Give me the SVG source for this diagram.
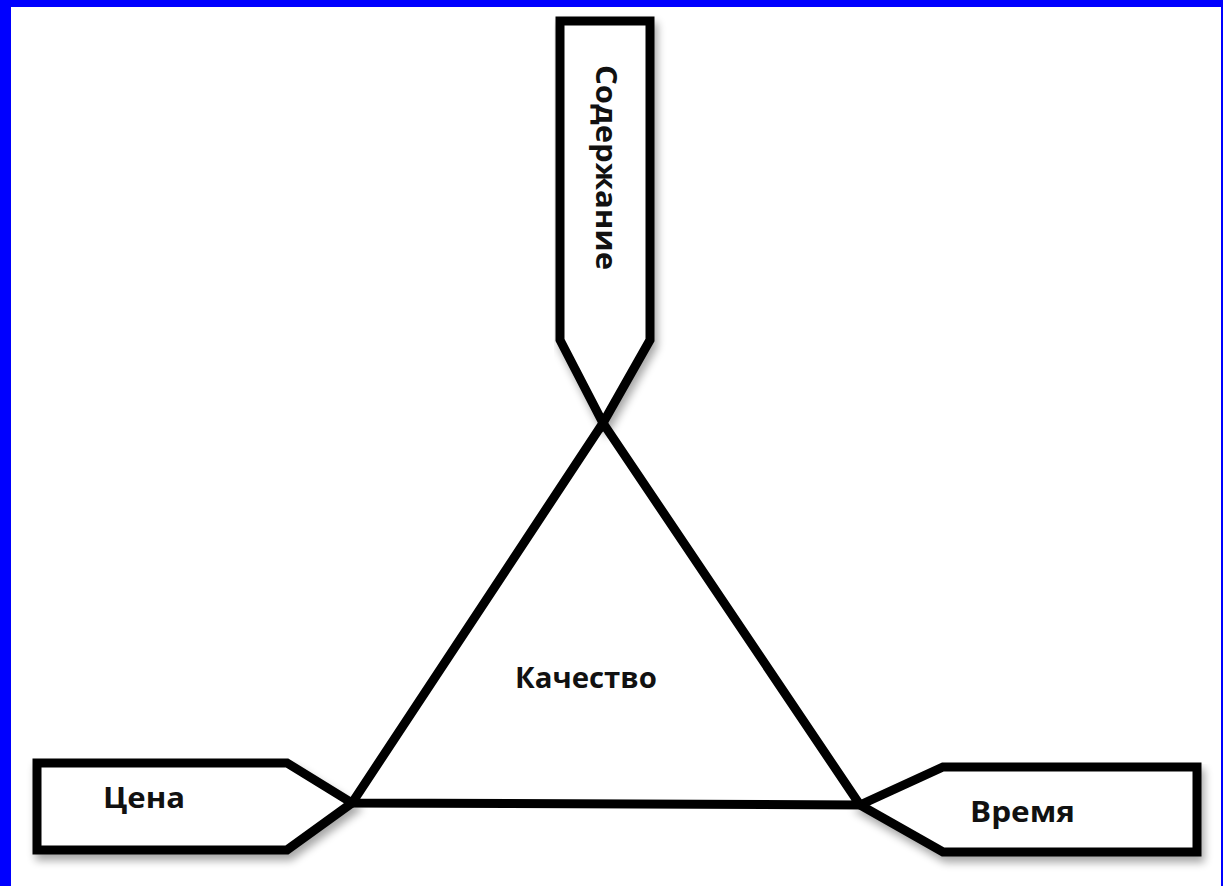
<svg xmlns="http://www.w3.org/2000/svg" width="1223" height="886" viewBox="0 0 1223 886">
<style>
.shape{fill:#fff;stroke:#000;stroke-width:9;stroke-linejoin:miter;filter:url(#sh)}
.line{fill:none;stroke:#000;stroke-width:9;stroke-linejoin:miter}
.lbl{font-family:"Open Sans","Liberation Sans",sans-serif;font-weight:bold;font-size:28px;fill:#111}
</style>
<defs>
<filter id="sh" x="-10%" y="-10%" width="130%" height="140%">
<feGaussianBlur in="SourceAlpha" stdDeviation="4"/>
<feOffset dx="3" dy="6" result="b"/>
<feComponentTransfer><feFuncA type="linear" slope="0.35"/></feComponentTransfer>
<feMerge><feMergeNode/><feMergeNode in="SourceGraphic"/></feMerge>
</filter>
</defs>
<rect x="0" y="0" width="1223" height="886" fill="#fff"/>
<rect x="0" y="0" width="1223" height="7" fill="#0000ff"/>
<rect x="0" y="0" width="11" height="886" fill="#0000ff"/>
<rect x="1221" y="0" width="2" height="886" fill="#0000ff"/>
<g id="content">
<path class="shape" d="M560,21 L650,21 L650,340 L603,423 L560,340 Z"/>
<text class="lbl" transform="translate(596,65) rotate(90)" textLength="205" lengthAdjust="spacingAndGlyphs">Содержание</text>
</g>
<g id="price">
<path class="shape" d="M37,763 L287,763 L352,803 L287,850 L37,850 Z"/>
<text class="lbl" x="103" y="808" textLength="82" lengthAdjust="spacingAndGlyphs">Цена</text>
</g>
<g id="time">
<path class="shape" d="M860,805 L943,767 L1197,767 L1197,852 L943,852 Z"/>
<text class="lbl" x="970" y="822" textLength="105" lengthAdjust="spacingAndGlyphs">Время</text>
</g>
<g id="connectors">
<path class="line" d="M603,423 L352,803 L860,805 Z"/>
</g>
<g id="quality">
<text class="lbl" x="515" y="688" textLength="142" lengthAdjust="spacingAndGlyphs">Качество</text>
</g>
</svg>
